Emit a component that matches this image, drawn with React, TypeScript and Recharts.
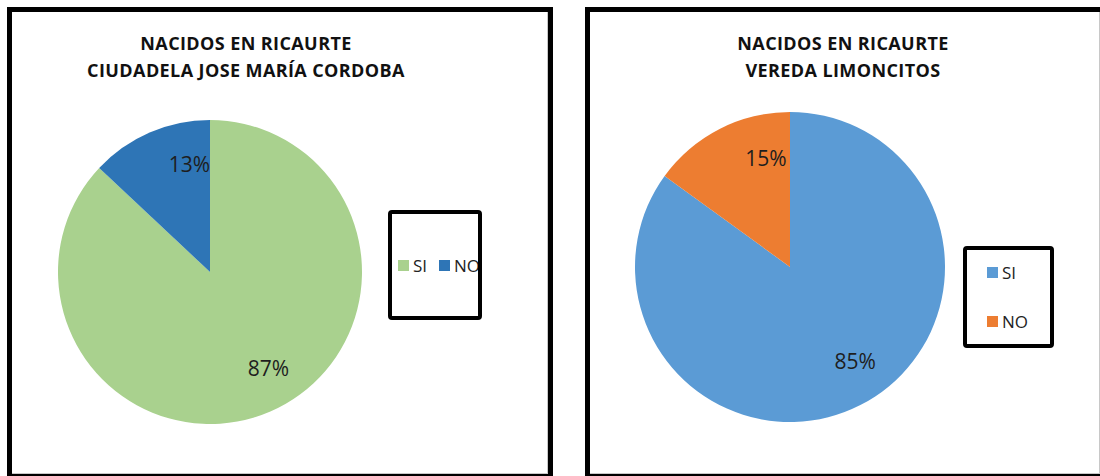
import React from "react";
import { PieChart, Pie, Cell, Legend } from "recharts";

const categories = ["SI", "NO"];
const ciudadelaValues = [87, 13];
const limoncitosValues = [85, 15];
const ciudadelaColors = ["#A9D18E", "#2E75B6"];
const limoncitosColors = ["#5B9BD5", "#ED7D31"];
const ciudadelaTitle = ["NACIDOS EN RICAURTE", "CIUDADELA JOSE MARÍA CORDOBA"];
const limoncitosTitle = ["NACIDOS EN RICAURTE", "VEREDA LIMONCITOS"];

const FONT = "'Open Sans', 'Noto Sans', sans-serif";
const RAD = Math.PI / 180;

const makeData = (vals: number[]) => categories.map((name, i) => ({ name, value: vals[i] }));

// Excel-style "best fit" label placement
const renderLabel = (props: any) => {
  const { cx, cy, startAngle, endAngle, outerRadius, percent } = props;
  const f = percent > 0.5 ? 0.475 : 0.77;
  const ang = startAngle + f * (endAngle - startAngle);
  const r = outerRadius * (percent > 0.5 ? 0.74 : 0.72);
  const x = cx + r * Math.cos(-ang * RAD);
  const y = cy + r * Math.sin(-ang * RAD);
  return (
    <text x={x} y={y} fill="#1e1e1e" textAnchor="middle" dominantBaseline="central"
      style={{ fontFamily: FONT, fontSize: 21 }}>
      {`${Math.round(percent * 100)}%`}
    </text>
  );
};

const makeLegend = (horizontal: boolean) => (props: any) => {
  const payload = [...(props.payload || [])].sort(
    (a: any, b: any) => categories.indexOf(a.value) - categories.indexOf(b.value)
  );
  return (
    <div style={{
      width: "100%", height: "100%", boxSizing: "border-box", border: "4px solid #000",
      borderRadius: 4, background: "#fff", overflow: "hidden", fontFamily: FONT, fontSize: 17,
      color: "#222", position: "relative",
    }}>
      {payload.map((p: any, i: number) => (
        <div key={p.value} style={horizontal ? {
          position: "absolute", left: 6 + i * 41, top: 40, display: "flex", alignItems: "center", whiteSpace: "nowrap",
        } : {
          position: "absolute", left: 20, top: 11 + i * 49, display: "flex", alignItems: "center", whiteSpace: "nowrap",
        }}>
          <span style={{ display: "inline-block", width: 11, height: 11, background: p.color, marginRight: 4 }} />
          <span>{p.value}</span>
        </div>
      ))}
    </div>
  );
};

type PanelProps = {
  left: number; width: number; title: string[]; titleCenter: number;
  values: number[]; colors: string[]; cx: number; cy: number; r: number;
  legendBox: { left: number; top: number; width: number; height: number }; horizontal: boolean;
};

const Panel = (p: PanelProps) => {
  const data = makeData(p.values);
  return (
    <div style={{
      position: "absolute", left: p.left, top: 7, width: p.width, height: 472, boxSizing: "border-box",
      border: "5px solid #000", background: "#fff",
    }}>
      <div style={{ position: "absolute", inset: 0, borderRight: "1px solid #c8c8c8", borderBottom: "1px solid #c8c8c8" }} />
      <div style={{
        position: "absolute", left: p.titleCenter - 250, width: 500, top: 18, textAlign: "center",
        fontFamily: FONT, fontWeight: 700, fontSize: 18, lineHeight: "27px", color: "#111", letterSpacing: 0.4,
      }}>
        {p.title.map((t) => <div key={t}>{t}</div>)}
      </div>
      <div style={{ position: "absolute", left: 0, top: 0 }}>
        <PieChart width={p.width - 10} height={462} margin={{ top: 0, right: 0, bottom: 0, left: 0 }}>
          <Pie data={data} dataKey="value" nameKey="name" cx={p.cx} cy={p.cy} outerRadius={p.r}
            startAngle={90} endAngle={-270} stroke="none" isAnimationActive={false}
            labelLine={false} label={renderLabel}>
            {data.map((d, i) => <Cell key={d.name} fill={p.colors[i]} />)}
          </Pie>
          <Legend content={makeLegend(p.horizontal)} wrapperStyle={{ ...p.legendBox, position: "absolute" }} />
        </PieChart>
      </div>
    </div>
  );
};

export default function App() {
  return (
    <div style={{ position: "absolute", left: 0, top: 0, width: 1100, height: 476, background: "#fff", overflow: "hidden" }}>
      <Panel left={7} width={546} title={ciudadelaTitle} titleCenter={234}
        values={ciudadelaValues} colors={ciudadelaColors} cx={198} cy={260} r={152}
        legendBox={{ left: 376, top: 198, width: 94, height: 110 }} horizontal={true} />
      <Panel left={585} width={520} title={limoncitosTitle} titleCenter={253}
        values={limoncitosValues} colors={limoncitosColors} cx={200} cy={255} r={155}
        legendBox={{ left: 373, top: 234, width: 91, height: 102 }} horizontal={false} />
    </div>
  );
}
